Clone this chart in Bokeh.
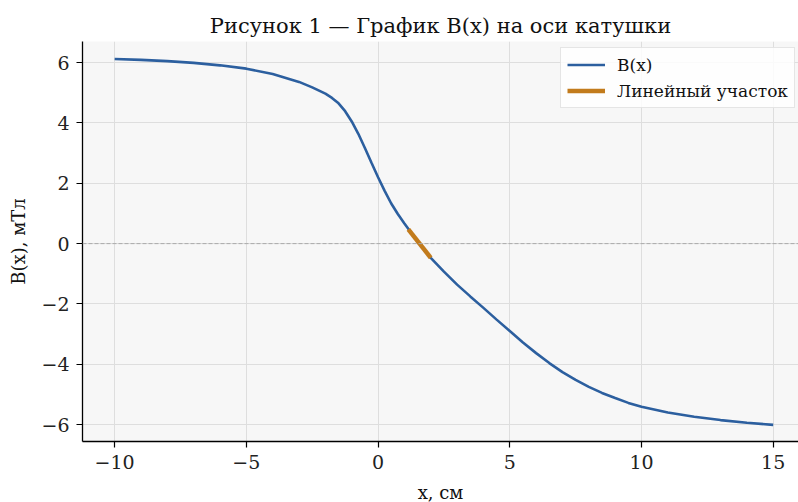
import numpy as np
from bokeh.plotting import figure
from bokeh.models import Range1d, Span, Legend, LegendItem, FixedTicker
from bokeh.embed import file_html
from bokeh.resources import INLINE

# Values
x_vals = [-10, -9, -8, -7, -6, -5, -4, -3, -2.5, -2, -1.75, -1.5, -1.25, -1, -0.75, -0.5,
          -0.25, 0, 0.25, 0.5, 0.75, 1, 1.25, 1.5, 2, 2.5, 3, 3.5, 4, 4.5, 5, 5.5, 6, 6.5,
          7, 7.5, 8, 8.5, 9, 9.5, 10, 11, 12, 13, 14, 15]
b_vals = [6.12, 6.09, 6.05, 5.99, 5.91, 5.80, 5.62, 5.36, 5.18, 4.97, 4.83, 4.65, 4.39,
          4.05, 3.64, 3.17, 2.68, 2.20, 1.75, 1.33, 0.98, 0.67, 0.37, 0.08, -0.47, -0.93,
          -1.36, -1.75, -2.13, -2.52, -2.90, -3.28, -3.63, -3.96, -4.26, -4.52, -4.75,
          -4.95, -5.12, -5.28, -5.41, -5.60, -5.74, -5.85, -5.94, -6.01]
lin_x = [1.15, 2.0]
lin_y = [0.47, -0.47]

x_ticks = [-10, -5, 0, 5, 10, 15]
y_ticks = [-6, -4, -2, 0, 2, 4, 6]

title_text = "Рисунок 1 — График B(x) на оси катушки"
legend_labels = ["B(x)", "Линейный участок"]
x_label = "x, см"
y_label = "B(x), мТл"

SERIF = "DejaVu Serif"
BLUE = "#2c5f9f"
ORANGE = "#c27b1c"

p = figure(frame_width=716, frame_height=400, output_backend="svg", toolbar_location=None,
           x_range=Range1d(-11.22, 15.96), y_range=Range1d(-6.56, 6.70),
           min_border_left=82, min_border_right=0, min_border_top=41, min_border_bottom=61,
           background_fill_color="#f7f7f7", border_fill_color="white")
p.outline_line_color = None

p.title.text = title_text
p.title.text_font = SERIF
p.title.text_font_size = "21px"
p.title.text_font_style = "normal"
p.title.align = "center"
p.title.text_color = "#111111"
p.title.standoff = 8

for ax in (p.xaxis[0], p.yaxis[0]):
    ax.major_label_text_font = SERIF
    ax.major_label_text_font_size = "19px"
    ax.major_label_text_color = "#222222"
    ax.axis_line_color = "black"
    ax.axis_line_width = 1.3
    ax.major_tick_line_color = "black"
    ax.major_tick_line_width = 1.2
    ax.major_tick_out = 6
    ax.major_tick_in = 0
    ax.minor_tick_line_color = None
    ax.major_label_standoff = 7
    ax.axis_label_text_font = SERIF
    ax.axis_label_text_font_size = "18px"
    ax.axis_label_text_font_style = "normal"
    ax.axis_label_text_color = "#111111"
p.xaxis[0].axis_label = x_label
p.yaxis[0].axis_label = y_label
p.xaxis[0].axis_label_standoff = 10
p.yaxis[0].axis_label_standoff = 9
p.xaxis[0].ticker = FixedTicker(ticks=x_ticks)
p.yaxis[0].ticker = FixedTicker(ticks=y_ticks)
p.xaxis[0].major_label_overrides = {t: str(t).replace("-", "−") for t in x_ticks}
p.yaxis[0].major_label_overrides = {t: str(t).replace("-", "−") for t in y_ticks}

p.xgrid.ticker = FixedTicker(ticks=x_ticks)
p.ygrid.ticker = FixedTicker(ticks=y_ticks)
p.grid.grid_line_color = "#dedede"
p.grid.grid_line_width = 1

p.add_layout(Span(location=0, dimension="width", line_color="#aaaaaa", line_width=1,
                  line_dash="4 2"))

r1 = p.line(x_vals, b_vals, line_color=BLUE, line_width=2.6)
r2 = p.line(lin_x, lin_y, line_color=ORANGE, line_width=4.5)

legend = Legend(items=[LegendItem(label=legend_labels[0], renderers=[r1]),
                       LegendItem(label=legend_labels[1], renderers=[r2])],
                location=(478, 333), margin=0, padding=6, spacing=5,
                label_height=21, glyph_height=21, glyph_width=38, label_standoff=12,
                label_text_font=SERIF, label_text_font_size="17px",
                label_text_color="#111111",
                border_line_color="#cccccc", border_line_width=1,
                background_fill_color="white", background_fill_alpha=0.85)
p.add_layout(legend)

open("out.html", "w").write(file_html(p, INLINE))
